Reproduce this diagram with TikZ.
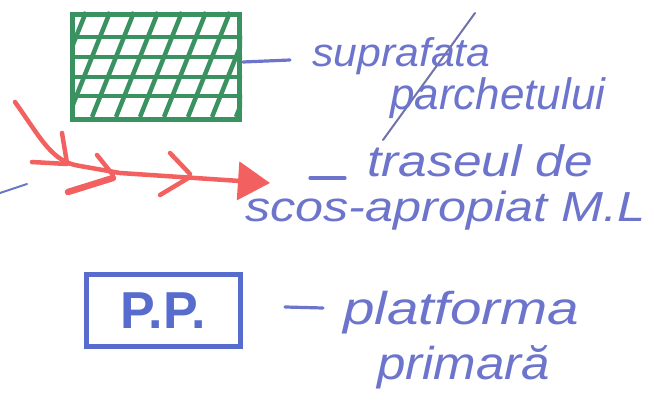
\documentclass[tikz,border=0pt]{standalone}
\usepackage{fontspec}
\setmainfont{Liberation Sans}
\usetikzlibrary{arrows.meta}
\definecolor{inkblue}{RGB}{108,116,204}
\definecolor{boxblue}{RGB}{88,108,206}
\definecolor{hatchgreen}{RGB}{58,146,96}
\definecolor{arrowred}{RGB}{242,96,96}
\definecolor{pencilgray}{RGB}{112,114,170}
\newcommand{\hw}[3]{\fontsize{#1}{#1}\selectfont\itshape\scalebox{#2}[1]{#3}}
\begin{document}
\begin{tikzpicture}[x=1pt,y=-1pt,
  hand/.style={inner sep=0pt, anchor=base west, text=inkblue},
  dashmark/.style={draw=inkblue, line width=3.2pt, line cap=round},
  hatch/.style={draw=hatchgreen, line width=4.5pt},
  redline/.style={draw=arrowred, line width=4.5pt, line cap=round},
  surfbox/.style={draw=hatchgreen, line width=5pt, minimum width=167pt, minimum height=105pt, inner sep=0pt, anchor=north west},
  ppbox/.style={draw=boxblue, line width=5pt, minimum width=154pt, minimum height=72pt, inner sep=0pt, text=boxblue}
]
\useasboundingbox (0,0) rectangle (654,414);

% hatched surface
\node[surfbox] (surf) at (70,12) {};
\begin{scope}
  \clip (surf.south west) rectangle (surf.north east);
  \foreach \y in {37,57,77,96} \draw[hatch] (60,\y) -- (250,\y);
  \foreach \x in {20,44,...,260} \draw[hatch] (\x,117) -- (\x+42,12);
\end{scope}
\node[surfbox] at (70,12) {};

% red route arrow
\coordinate (rs) at (15,102);
\coordinate (re) at (270,183);
\draw[redline, -{Triangle[length=32pt,width=38pt]}] (rs) .. controls (42,140) and (52,162) .. (80,166) -- (120,173) -- (re);
\draw[redline] (62,133) -- (67,163);
\draw[redline] (32,162) -- (67,164);
\draw[redline] (97,155) -- (113,175);
\draw[redline, line width=6.5pt] (68,192) -- (113,178);
\draw[redline] (170,153) -- (190,174);
\draw[redline] (160,195) -- (190,177);

% small blue tick at left
\draw[dashmark, line width=2pt] (0,193) -- (27,184);

% P.P. box
\node[ppbox] (pp) at (163,311) {\fontsize{52}{52}\selectfont\bfseries P.P.};

% dashes
\draw[dashmark] (243,62) -- (290,60);
\draw[dashmark] (310,178) -- (345,178);
\draw[dashmark] (285,307) -- (323,308);

% pencil stroke
\draw[pencilgray, line width=2pt, line cap=round] (475,13) -- (383,140);

% texts
\node[hand] (t1) at (312,67) {\hw{40}{1.07}{suprafata}};
\node[hand] (t2) at (390,110) {\hw{44}{1.0}{parchetului}};
\node[hand] (t3) at (367,177) {\hw{44}{1.17}{traseul de}};
\node[hand] (t4) at (245,222) {\hw{42}{1.2}{scos-apropiat M.L}};
\node[hand] (t5) at (343,325) {\hw{46}{1.23}{platforma}};
\node[hand] (t6) at (377,380) {\hw{46}{1.11}{primară}};
\end{tikzpicture}
\end{document}
